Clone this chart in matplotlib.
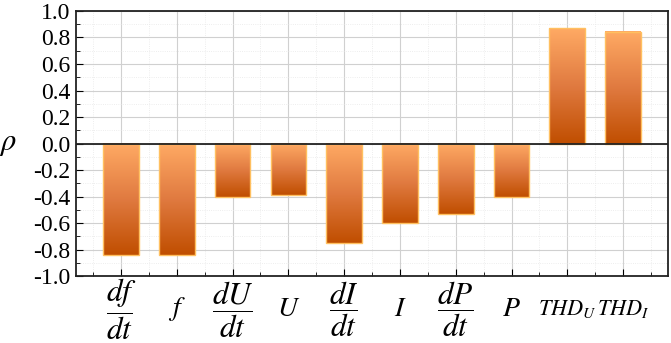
import matplotlib
matplotlib.use("Agg")
import matplotlib.pyplot as plt
import numpy as np
from matplotlib.colors import LinearSegmentedColormap
from matplotlib.ticker import MultipleLocator

labels = [r"$\dfrac{df}{dt}$", r"$f$", r"$\dfrac{dU}{dt}$", r"$U$", r"$\dfrac{dI}{dt}$",
          r"$I$", r"$\dfrac{dP}{dt}$", r"$P$", r"$THD_U$", r"$THD_I$"]
rho = [-0.84, -0.84, -0.405, -0.387, -0.75, -0.60, -0.535, -0.40, 0.873, 0.845]
yticks = [-1.0, -0.8, -0.6, -0.4, -0.2, 0.0, 0.2, 0.4, 0.6, 0.8, 1.0]

plt.rcParams["font.family"] = "Liberation Serif"
plt.rcParams["mathtext.fontset"] = "stix"

cmap = LinearSegmentedColormap.from_list("bar", ["#C04E00", "#E07A40", "#FFAA64"])
grad = np.linspace(0, 1, 256).reshape(-1, 1)

fig = plt.figure(figsize=(6.71, 3.43), dpi=100)
ax = fig.add_axes([0.113, 0.195, 0.883, 0.773])

width = 0.64
x = np.arange(len(rho))
for xi, v in zip(x, rho):
    lo, hi = min(0, v), max(0, v)
    ax.imshow(grad, cmap=cmap, origin="lower", aspect="auto",
              extent=(xi - width / 2, xi + width / 2, lo, hi), zorder=2)
ax.bar(x, rho, width=width, facecolor="none", edgecolor="#FFC060", linewidth=1.0, zorder=3)

ax.axhline(0, color="#222222", linewidth=1.3, zorder=4)
ax.set_xlim(-0.81, 9.81)
ax.set_ylim(-1.0, 1.0)
ax.set_yticks(yticks)
ax.set_yticklabels([f"{t:.1f}" for t in yticks])
ax.set_xticks(x)
ax.set_xticklabels(labels)
for lab, txt in zip(ax.get_xticklabels(), labels):
    if "frac" in txt:
        lab.set_fontsize(22.5)
    elif "THD" in txt:
        lab.set_fontsize(16)
    else:
        lab.set_fontsize(20)
    lab.set_va("center")
ax.xaxis.set_minor_locator(MultipleLocator(0.5))
ax.yaxis.set_minor_locator(MultipleLocator(0.1))
ax.tick_params(axis="y", which="major", direction="in", length=5, labelsize=17, pad=4)
ax.tick_params(axis="y", which="minor", direction="in", length=3)
ax.tick_params(axis="x", which="major", direction="in", length=5, pad=24)
ax.tick_params(axis="x", which="minor", direction="in", length=3)

ax.grid(which="major", color="#d0d0d0", linewidth=0.8, zorder=0)
ax.grid(which="minor", color="#e8e8e8", linewidth=0.6, linestyle=":", zorder=0)
ax.set_axisbelow(True)
for s in ax.spines.values():
    s.set_linewidth(1.3)
    s.set_color("#222222")

ax.set_ylabel(r"$\rho$", fontsize=22, rotation=0, labelpad=18, va="center")

fig.savefig("out.png", dpi=100)
